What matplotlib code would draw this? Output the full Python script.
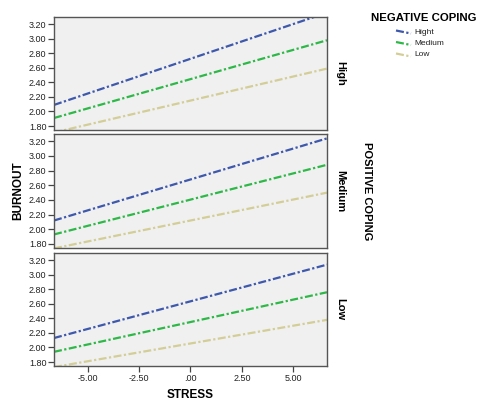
import numpy as np
import matplotlib.pyplot as plt
from matplotlib.lines import Line2D

plt.rcParams['font.family'] = ['Liberation Sans', 'DejaVu Sans']

# stress at the two ends of each line
stress = [-6.65, 6.65]
panels = ['High', 'Medium', 'Low']          # positive coping
groups = ['Hight', 'Medium', 'Low']         # negative coping
colors = ['#3e58ac', '#2eb848', '#d3ce97']

# burnout at the left / right end, per panel (rows) and group (cols)
burnout_high = [[2.09, 3.36], [1.91, 2.98], [1.71, 2.59]]
burnout_medium = [[2.12, 3.24], [1.93, 2.88], [1.74, 2.50]]
burnout_low = [[2.13, 3.14], [1.94, 2.76], [1.73, 2.38]]
burnout = [burnout_high, burnout_medium, burnout_low]

yticks = [1.8, 2.0, 2.2, 2.4, 2.6, 2.8, 3.0, 3.2]
xticks = [-5, -2.5, 0, 2.5, 5]
xticklabels = ['-5.00', '-2.50', '.00', '2.50', '5.00']

W, H = 481, 401
fig = plt.figure(figsize=(W / 100, H / 100), dpi=100)

left, right = 54, 327
tops = [17, 134, 253]
bots = [130, 248, 366]
dash = (0, (3.6, 1.1, 1.0, 1.1))
lw = 1.6

for p in range(3):
    ax = fig.add_axes([left / W, 1 - bots[p] / H, (right - left) / W, (bots[p] - tops[p]) / H])
    ax.set_facecolor('#f0f0f0')
    for g in range(3):
        ax.plot(stress, burnout[p][g], color=colors[g], lw=lw, linestyle=dash)
    ax.set_xlim(-6.65, 6.65)
    ax.set_ylim(1.745, 3.30)
    ax.set_yticks(yticks)
    ax.set_yticklabels(['%.2f' % v for v in yticks], fontsize=6.5, color='#222222')
    if p == 2:
        ax.set_xticks(xticks)
        ax.set_xticklabels(xticklabels, fontsize=6.5, color='#222222')
    else:
        ax.set_xticks([])
    ax.tick_params(length=4, width=0.9, color='#444444', pad=1.5)
    for s in ax.spines.values():
        s.set_color('#555555')
        s.set_linewidth(1)
    fig.text(340 / W, 1 - (tops[p] + bots[p]) / 2 / H, panels[p], rotation=-90,
             ha='center', va='center', fontsize=8, fontweight='bold')

fig.text(18 / W, 1 - 191 / H, 'BURNOUT', rotation=90, ha='center', va='center',
         fontsize=8.5, fontweight='bold')
fig.text(190 / W, 1 - 395 / H, 'STRESS', ha='center', va='center',
         fontsize=8.5, fontweight='bold')
fig.text(367 / W, 1 - 191 / H, 'POSITIVE COPING', rotation=-90, ha='center', va='center',
         fontsize=8, fontweight='bold')

# legend
fig.text(371 / W, 1 - 18 / H, 'NEGATIVE COPING', ha='left', va='center',
         fontsize=8.2, fontweight='bold')
for g in range(3):
    yy = 1 - (32 + 11.5 * g) / H
    fig.add_artist(Line2D([396 / W, 411 / W], [yy + 1.5 / H, yy - 1.5 / H],
                          color=colors[g], lw=lw, linestyle=dash))
    fig.text(414 / W, yy, groups[g], ha='left', va='center', fontsize=6, color='#222222')

fig.savefig('out.png', dpi=100)
